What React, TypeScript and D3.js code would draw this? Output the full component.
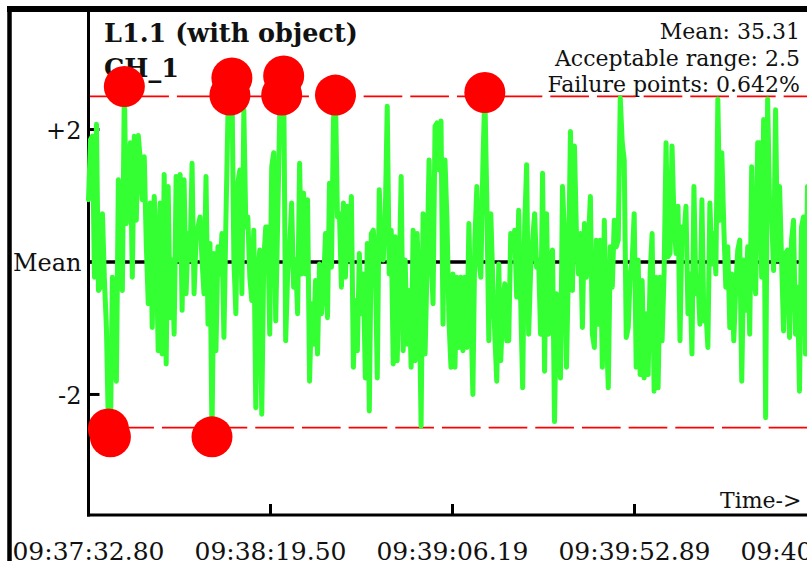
import React from "react";
import * as d3 from "d3";

// ---- data ----
const TITLE = "L1.1 (with object)";
const CHANNEL = "CH_1";
const MEAN_VALUE = 35.31;
const ACCEPTABLE_RANGE = 2.5;
const FAILURE_PERCENT = "0.642%";
const SAMPLE_INTERVAL_S = 0.511;

const TICK_SECONDS = [0, 46.7, 93.39, 140.09, 186.79];
const TICK_LABELS = ["09:37:32.80", "09:38:19.50", "09:39:06.19", "09:39:52.89", "09:40:39.59"];

const Y_TICKS = [2, 0, -2];
const Y_TICK_LABELS = ["+2", "Mean", "-2"];

// deviations (in units of sigma) from the mean, read in four stretches
const SIGNAL_PART_A = [
  0.94, 1.85, 1.9, -0.23, 2.08, -0.43, -0.38, 0.73, -0.28, -0.99,
  -2.52, -2.64, -0.23, -1.34, -1.8, 1.24, 0.03, -0.43, 2.65, 0.58,
  1.14, 1.8, -0.23, 1.9, 0.63, 1.91, 1.54, 0.94, 1.59, 0.28,
  -0.63, 0.89, -0.99, 0.99, 0.23, -1.34, 0.89, -1.39, 1.32, -1.54,
  1.14, -0.84, 0.03, -1.09, 1.29, 0.03, 1.32, -0.73, 1.24, -0.48,
  0.43, 0.03, 1.49, -0.48, 0.33, 0.53, 0.68, 0.03, -0.48, 1.29,
  -0.94, 0.28, -2.64, 0.13, -1.34, 0.23, -0.18, 0.43, -1.14, 0.63,
  2.2, 2.52, 2.78, 0.03, -0.78, 1.19, 1.39, -0.48, 2.3, 0.53,
  0.68, -0.23, -0.58, 0.48, -2.2, -0.18, 0.18, -2.3, 0.03, 0.53,
];
const SIGNAL_PART_B = [
  0.53, -1.09, 1.44, 1.65, -0.89, 0.63, 2.2, 2.52, 2.81, -1.19,
  -0.18, 0.23, 0.89, -0.38, 0.03, -0.78, 1.49, -0.18, 1.04, -0.18,
  0.94, -1.8, -0.63, -1.24, -0.28, -1.39, -0.03, -0.78, -0.38, 0.43,
  -0.84, 1.19, -0.08, 2.15, 2.52, 0.68, 0.73, -0.38, 0.89, -0.23,
  0.84, 0.03, 0.99, -1.59, -0.58, -1.34, 0.13, -0.78, -0.18, -1.75,
  0.28, -2.25, 0.43, 0.48, 0.03, -1.75, 1.09, 0.23, 0.03, 0.68,
  2.35, -0.18, 0.48, -1.54, 0.38, -1.49, -0.23, 1.29, -1.34, 0.03,
  -1.24, -0.43, -1.59, 0.48, -1.49, 0.43, -0.38, -2.48, 0.73, -1.39,
  -0.08, 1.54, 0.13, -0.63, 2.05, 2.1, 1.39, 2.13, -0.94, 1.54,
  0.63, -0.89,
];
const SIGNAL_PART_C = [
  -1.59, -0.18, -1.59, -0.23, -1.29, -0.23, -1.34, -0.23, -1.29, 0.58,
  -0.73, -2.0, 0.33, 1.14, 0.03, -0.23, 1.44, 2.56, 0.94, -1.19,
  0.73, -0.28, -1.09, -1.8, -0.03, -1.49, -0.68, -0.33, -1.19, -1.19,
  0.43, 0.23, 0.48, -0.53, 0.78, -0.58, -1.9, 0.53, 1.47, -1.09,
  -0.13, 0.33, 0.73, -0.08, 0.03, -1.09, 1.34, -1.65, 0.73, -1.09,
  0.03, 0.18, -2.41, -0.48, -1.54, -1.75, 1.14, 0.43, -1.59, -0.08,
  1.97, -0.43, 1.75, 0.43, -0.18, 0.43, -0.99, 0.58, -0.23, 0.28,
  0.99, -1.09, -1.29, 0.33, -0.94, 0.33, -1.59, 0.63, -0.99, -1.9,
  0.23, -0.38, 0.63, 0.23, 0.33, 2.48, 1.8,
];
const SIGNAL_PART_D = [
  1.54, -1.14, -0.99, -0.18, 0.03, 0.73, -1.59, 0.03, -1.7, -0.28,
  -1.75, -0.78, -1.7, -0.18, 0.43, -1.95, -0.23, -1.9, -0.23, -1.19,
  -0.18, 1.8, 0.08, 0.13, 1.75, 0.63, 0.13, 0.84, -1.19, 0.53,
  0.38, 0.84, -0.78, -0.18, -1.39, 1.14, -0.48, -0.23, -0.94, 0.94,
  -0.89, -0.73, -1.29, 0.89, -0.03, 0.43, -0.18, 2.46, 0.63, 1.65,
  0.53, -0.38, 0.23, -0.99, -0.18, -1.19, -0.38, 0.18, 0.33, -1.8,
  0.03, -0.73, 0.23, -1.09, 1.44, -0.18, -0.48, 1.8, 1.8, -0.23,
  2.15, -2.35, 2.46, 0.84, 0.73, -0.13, 2.3, 0.03, 1.14, 0.03,
  -1.04, 0.13, 0.18, -1.14, 0.33, 0.63, -1.09, -0.38, -1.95, 0.53,
  0.68, -1.39, 1.14,
];

const SIGNAL = [...SIGNAL_PART_A, ...SIGNAL_PART_B, ...SIGNAL_PART_C, ...SIGNAL_PART_D];

const FONT = "'DejaVu Serif', 'Liberation Serif', serif";

export default function App() {
  const W = 807;
  const H = 561;
  const axisX = 88.5;
  const axisY = 515;

  const x = d3.scaleLinear().domain([0, 186.79]).range([axisX, axisX + 728]);
  const y = d3.scaleLinear().domain([-3.82, 3.82]).range([515, 9]);

  const points = SIGNAL.map((v, i) => ({ t: i * SAMPLE_INTERVAL_S, v }));
  const line = d3
    .line<{ t: number; v: number }>()
    .x((d) => x(d.t))
    .y((d) => y(d.v));
  const failures = points.filter((p) => Math.abs(p.v) > ACCEPTABLE_RANGE);

  return (
    <svg
      width={W}
      height={H}
      style={{ position: "fixed", left: 0, top: 0, background: "#fff", overflow: "hidden" }}
    >
      {/* frame */}
      <line x1={9.5} x2={9.5} y1={6} y2={H} stroke="#000" strokeWidth={4.5} />
      <line x1={7} x2={W} y1={9} y2={9} stroke="#000" strokeWidth={6} />

      {/* title */}
      <text x={104} y={42} fontFamily={FONT} fontWeight="bold" fontSize={25.5} fill="#111">
        {TITLE}
      </text>
      <text x={104} y={77} fontFamily={FONT} fontWeight="bold" fontSize={25.5} fill="#111">
        {CHANNEL}
      </text>

      {/* stats */}
      <g fontFamily={FONT} fontSize={22} fill="#111" textAnchor="end">
        <text x={800} y={39}>{`Mean: ${MEAN_VALUE.toFixed(2)}`}</text>
        <text x={800} y={65.5}>{`Acceptable range: ${ACCEPTABLE_RANGE}`}</text>
        <text x={800} y={92}>{`Failure points: ${FAILURE_PERCENT}`}</text>
      </g>

      {/* limit lines */}
      <line
        x1={axisX}
        x2={W}
        y1={y(ACCEPTABLE_RANGE)}
        y2={y(ACCEPTABLE_RANGE)}
        stroke="#ff0000"
        strokeWidth={1.8}
        strokeDasharray="38.67 8"
        strokeDashoffset={4.9}
      />
      <line
        x1={axisX}
        x2={W}
        y1={y(-ACCEPTABLE_RANGE)}
        y2={y(-ACCEPTABLE_RANGE)}
        stroke="#ff0000"
        strokeWidth={1.8}
        strokeDasharray="38.67 8"
        strokeDashoffset={19.9}
      />

      {/* mean line */}
      <line x1={axisX} x2={W} y1={y(0)} y2={y(0)} stroke="#000" strokeWidth={3.5} />

      {/* axes */}
      <line x1={axisX} x2={axisX} y1={12} y2={axisY + 1.5} stroke="#000" strokeWidth={3} />
      <line x1={axisX - 1.5} x2={W} y1={axisY} y2={axisY} stroke="#000" strokeWidth={3} />
      {Y_TICKS.map((v, i) => (
        <g key={"yt" + i}>
          <line x1={axisX} x2={axisX + 11} y1={y(v)} y2={y(v)} stroke="#000" strokeWidth={3} />
          <text
            x={81.5}
            y={y(v)}
            dy="0.38em"
            textAnchor="end"
            fontFamily={FONT}
            fontSize={24}
            fill="#111"
          >
            {Y_TICK_LABELS[i]}
          </text>
        </g>
      ))}
      {TICK_SECONDS.map((t, i) => (
        <g key={"xt" + i}>
          <line x1={x(t)} x2={x(t)} y1={axisY} y2={axisY - 11} stroke="#000" strokeWidth={3} />
          <text
            x={x(t)}
            y={560}
            textAnchor="middle"
            fontFamily={FONT}
            fontSize={25}
            fill="#111"
          >
            {TICK_LABELS[i]}
          </text>
        </g>
      ))}
      <text x={801.5} y={507.5} textAnchor="end" fontFamily={FONT} fontSize={22} fill="#111">
        Time-&gt;
      </text>

      {/* signal */}
      <path
        d={line(points) || ""}
        fill="none"
        stroke="#33ff33"
        strokeWidth={5}
        strokeLinejoin="round"
        strokeLinecap="round"
      />

      {/* failure points */}
      {failures.map((p, i) => (
        <circle key={"f" + i} cx={x(p.t)} cy={y(p.v)} r={20.5} fill="#ff0000" />
      ))}
    </svg>
  );
}
